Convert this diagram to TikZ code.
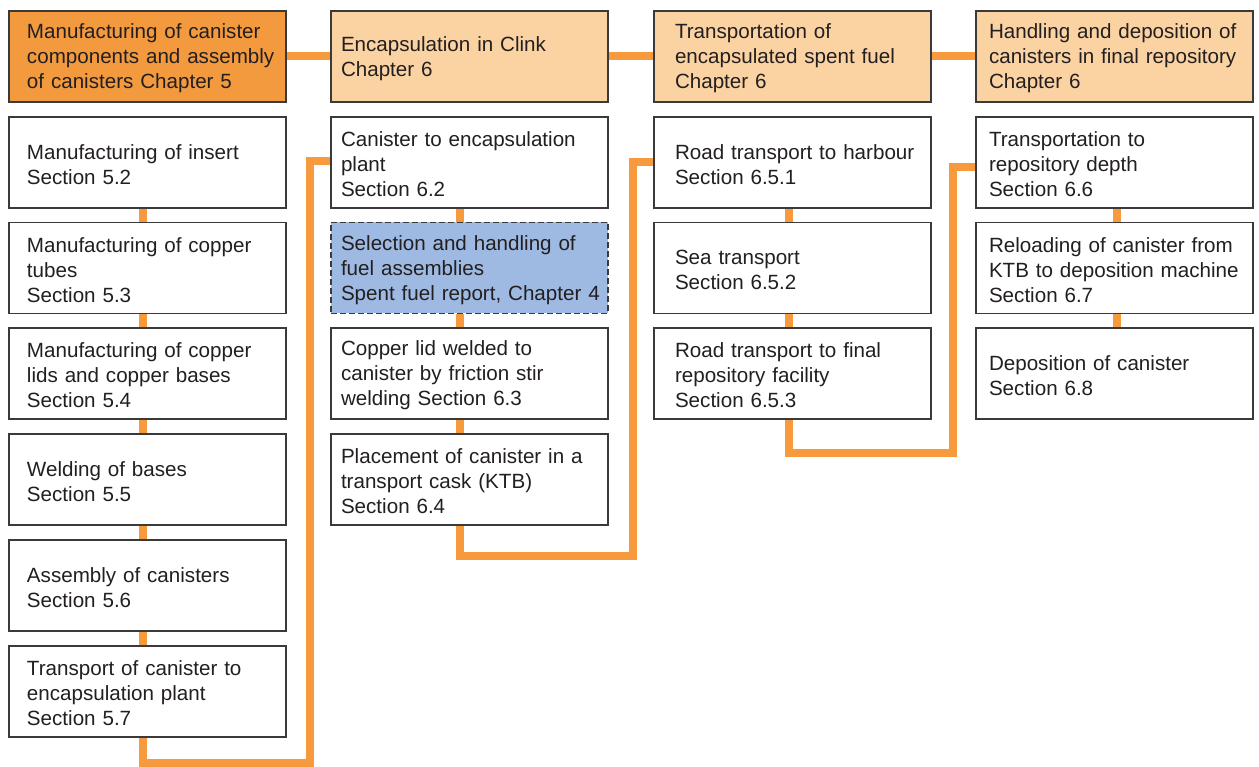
\documentclass[tikz,border=0pt]{standalone}
\usepackage{fontspec}
\setmainfont{Liberation Sans}
\usetikzlibrary{backgrounds}
\definecolor{linkorange}{HTML}{F7993D}
\definecolor{chapdark}{HTML}{F39A3F}
\definecolor{chaplight}{HTML}{FBD3A3}
\definecolor{fuelblue}{HTML}{9EBAE2}
\definecolor{boxline}{HTML}{3A3A3A}
\definecolor{boxtext}{HTML}{231F20}
\begin{document}
\begin{tikzpicture}[x=1pt,y=-1pt,
        box/.style = {draw=boxline, line width=1.3pt, fill=white, text=boxtext,
            minimum width=277pt, minimum height=91pt, text width=277pt,
            inner xsep=0pt, inner ysep=0pt, align=left,
            font=\fontsize{20.6}{25}\selectfont,
            execute at end node={\endgraf\vspace*{-4pt}}},
        col1/.style = {box, execute at begin node={\leftskip=18pt\relax}},
        col2/.style = {box, execute at begin node={\leftskip=10pt\relax}},
        col3/.style = {box, execute at begin node={\leftskip=21pt\relax}},
        col4/.style = {box, execute at begin node={\leftskip=13pt\relax}},
        chap/.style = {fill=chaplight},
        link/.style = {draw=linkorange, line width=8pt, line join=miter}]
        \useasboundingbox (0,0) rectangle (1259,767);
        % chapter headers
        \node[col1, fill=chapdark] (h1) at (147.5,56.5) {Manufacturing of canister\\components and assembly\\of canisters Chapter 5};
        \node[col2, chap] (h2) at (469.5,56.5) {Encapsulation in Clink\\Chapter 6};
        \node[col3, chap] (h3) at (792.5,56.5) {Transportation of\\encapsulated spent fuel\\Chapter 6};
        \node[col4, chap] (h4) at (1114.5,56.5) {Handling and deposition of\\canisters in final repository\\Chapter 6};
        % chapter 5
        \node[col1] (m1) at (147.5,162.5) {Manufacturing of insert\\Section 5.2};
        \node[col1] (m2) at (147.5,268) {Manufacturing of copper\\tubes\\Section 5.3};
        \node[col1] (m3) at (147.5,373.5) {Manufacturing of copper\\lids and copper bases\\Section 5.4};
        \node[col1] (m4) at (147.5,479.5) {Welding of bases\\Section 5.5};
        \node[col1] (m5) at (147.5,585.5) {Assembly of canisters\\Section 5.6};
        \node[col1] (m6) at (147.5,691.5) {Transport of canister to\\encapsulation plant\\Section 5.7};
        % encapsulation
        \node[col2] (e1) at (469.5,162.5) {Canister to encapsulation\\plant\\Section 6.2};
        \node[col2, fill=fuelblue, dash pattern=on 6pt off 3pt] (e2) at (469.5,268) {Selection and handling of\\fuel assemblies\\Spent fuel report, Chapter 4};
        \node[col2] (e3) at (469.5,373.5) {Copper lid welded to\\canister by friction stir\\welding Section 6.3};
        \node[col2] (e4) at (469.5,479.5) {Placement of canister in a\\transport cask (KTB)\\Section 6.4};
        % transportation
        \node[col3] (t1) at (792.5,162.5) {Road transport to harbour\\Section 6.5.1};
        \node[col3] (t2) at (792.5,268) {Sea transport\\Section 6.5.2};
        \node[col3] (t3) at (792.5,373.5) {Road transport to final\\repository facility\\Section 6.5.3};
        % deposition
        \node[col4] (d1) at (1114.5,162.5) {Transportation to\\repository depth\\Section 6.6};
        \node[col4] (d2) at (1114.5,268) {Reloading of canister from\\KTB to deposition machine\\Section 6.7};
        \node[col4] (d3) at (1114.5,373.5) {Deposition of canister\\Section 6.8};
        \coordinate (k1) at (310,763);
        \coordinate (k2) at (633,556);
        \coordinate (k3) at (953,453);
        \begin{scope}[on background layer]
        \draw[link] (h1.east) -- (h2.west);
        \draw[link] (h2.east) -- (h3.west);
        \draw[link] (h3.east) -- (h4.west);
        \draw[link] ([xshift=-5pt]m1.south) -- ([xshift=-5pt]m2.north);
        \draw[link] ([xshift=-5pt]m2.south) -- ([xshift=-5pt]m3.north);
        \draw[link] ([xshift=-5pt]m3.south) -- ([xshift=-5pt]m4.north);
        \draw[link] ([xshift=-5pt]m4.south) -- ([xshift=-5pt]m5.north);
        \draw[link] ([xshift=-5pt]m5.south) -- ([xshift=-5pt]m6.north);
        \draw[link] ([xshift=-4.5pt]m6.south) |- (k1) |- ([yshift=1pt]e1.west);
        \draw[link] ([xshift=-9.5pt]e1.south) -- ([xshift=-9.5pt]e2.north);
        \draw[link] ([xshift=-9.5pt]e2.south) -- ([xshift=-9.5pt]e3.north);
        \draw[link] ([xshift=-9.5pt]e3.south) -- ([xshift=-9.5pt]e4.north);
        \draw[link] ([xshift=-9.5pt]e4.south) |- (k2) |- (t1.west);
        \draw[link] ([xshift=-3.5pt]t1.south) -- ([xshift=-3.5pt]t2.north);
        \draw[link] ([xshift=-3.5pt]t2.south) -- ([xshift=-3.5pt]t3.north);
        \draw[link] ([xshift=-3.5pt]t3.south) |- (k3) |- ([yshift=-4.5pt]d1.west);
        \draw[link] ([xshift=2pt]d1.south) -- ([xshift=2pt]d2.north);
        \draw[link] ([xshift=2pt]d2.south) -- ([xshift=2pt]d3.north);
        \end{scope}
\end{tikzpicture}
\end{document}
